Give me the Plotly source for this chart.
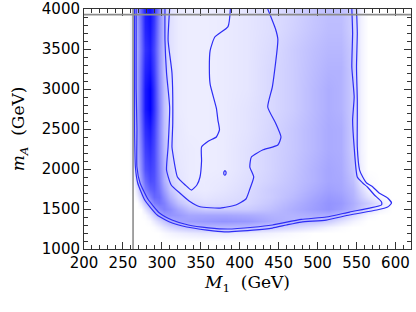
import plotly.graph_objects as go

# ---------------- data ----------------
M1_GRID = [258, 264, 268, 273, 278, 284, 290, 296, 302, 310, 320, 335, 355, 380,
           410, 440, 470, 495, 515, 530, 545, 555, 565, 580, 595, 610]
MA_GRID = [1100, 1200, 1275, 1350, 1425, 1500, 1575, 1650, 1750, 1850, 2000,
           2250, 2500, 2750, 3000, 3250, 3500, 3750, 4000]

# relative posterior density (rows follow MA_GRID, columns follow M1_GRID)
DENSITY = [
    [0]*26,
    [0, 0, 0, 0, 0, 0, 0, 0, .02, .04, .06, .08, .10, .10, .08, .05, .02, 0, 0, 0, 0, 0, 0, 0, 0, 0],
    [0, 0, 0, 0, 0, 0, .01, .05, .10, .15, .20, .25, .28, .28, .27, .22, .15, .10, .05, .02, 0, 0, 0, 0, 0, 0],
    [0, 0, 0, 0, 0, .02, .08, .15, .22, .30, .35, .38, .40, .42, .40, .33, .28, .25, .20, .12, .05, .02, 0, 0, 0, 0],
    [0, 0, 0, 0, .02, .10, .20, .30, .40, .42, .40, .35, .35, .35, .33, .30, .30, .32, .32, .25, .15, .08, .03, 0, 0, 0],
    [0, 0, 0, 0, .10, .22, .35, .45, .50, .45, .35, .25, .20, .20, .20, .25, .32, .38, .42, .38, .30, .22, .15, .05, 0, 0],
    [0, 0, 0, .08, .22, .38, .50, .55, .50, .38, .25, .16, .13, .14, .16, .22, .30, .37, .42, .40, .32, .25, .20, .10, .01, 0],
    [0, 0, .05, .18, .35, .50, .60, .58, .45, .30, .18, .12, .10, .12, .15, .20, .27, .35, .40, .38, .30, .20, .12, .03, 0, 0],
    [0, .02, .12, .30, .50, .62, .65, .55, .38, .22, .13, .09, .08, .10, .14, .20, .25, .32, .37, .35, .28, .15, .05, 0, 0, 0],
    [0, .05, .20, .38, .58, .70, .68, .52, .32, .18, .11, .08, .08, .09, .13, .18, .24, .30, .35, .34, .25, .10, .02, 0, 0, 0],
    [0, .10, .25, .45, .68, .75, .70, .50, .30, .16, .10, .08, .07, .08, .12, .17, .23, .30, .35, .33, .22, .06, 0, 0, 0, 0],
    [0, .12, .30, .50, .75, .82, .72, .48, .27, .14, .09, .08, .07, .08, .12, .17, .22, .28, .33, .32, .20, .05, 0, 0, 0, 0],
    [0, .12, .32, .55, .82, .90, .75, .48, .25, .13, .09, .07, .07, .08, .11, .16, .22, .28, .33, .32, .20, .05, 0, 0, 0, 0],
    [0, .15, .35, .60, .90, 1.0, .80, .50, .25, .12, .08, .07, .07, .08, .11, .15, .20, .27, .32, .30, .20, .05, 0, 0, 0, 0],
    [0, .15, .35, .60, .90, 1.0, .80, .48, .25, .12, .08, .07, .07, .08, .10, .15, .20, .27, .32, .30, .20, .05, 0, 0, 0, 0],
    [0, .15, .35, .58, .85, .92, .75, .45, .23, .12, .08, .07, .07, .08, .10, .15, .20, .26, .30, .30, .20, .05, 0, 0, 0, 0],
    [0, .15, .33, .55, .80, .88, .72, .44, .23, .12, .08, .07, .07, .08, .10, .14, .20, .25, .28, .28, .20, .05, 0, 0, 0, 0],
    [0, .15, .35, .57, .85, .92, .76, .46, .25, .12, .08, .07, .07, .08, .10, .13, .18, .23, .26, .26, .18, .05, 0, 0, 0, 0],
    [0, .15, .38, .60, .88, .95, .80, .48, .25, .12, .08, .07, .07, .08, .10, .13, .17, .22, .25, .25, .18, .05, 0, 0, 0, 0],
]

# contour lines (M1, mA)
CONTOUR_A_M1 = [265, 265, 265, 265, 266, 269, 278, 294, 310, 332, 358, 380, 417, 442, 460, 479,
                511, 541, 576, 590, 595, 590, 579, 571, 563, 558, 554, 551, 551, 551, 550, 551, 550]
CONTOUR_A_MA = [4000, 3600, 3000, 2500, 2025, 1825, 1612, 1425, 1337, 1275, 1237, 1215, 1237, 1262, 1300, 1337,
                1362, 1425, 1487, 1525, 1575, 1637, 1700, 1775, 1825, 1900, 1987, 2275, 2612, 2870, 3275, 3700, 4000]

CONTOUR_B_M1 = [267, 267, 267, 268, 268, 272, 282, 297, 313, 334, 360, 385, 417, 442, 479,
                511, 541, 567, 582, 582, 573, 564, 558, 551, 547, 545, 547, 544, 545, 544]
CONTOUR_B_MA = [4000, 3600, 3000, 2500, 2025, 1825, 1625, 1450, 1362, 1300, 1265, 1250, 1272, 1300, 1370,
                1400, 1462, 1512, 1550, 1590, 1675, 1775, 1825, 1900, 2275, 2612, 2900, 3275, 3700, 4000]

CONTOUR_C_M1 = [304, 304, 306, 310, 308, 306, 312, 323, 335, 349, 375, 395, 408, 413, 418, 413,
                415, 430, 449, 453, 446, 436, 442, 449, 446, 436]
CONTOUR_C_MA = [4000, 3610, 3200, 2775, 2275, 1987, 1800, 1700, 1600, 1528, 1512, 1550, 1625, 1750, 1900, 2025,
                2150, 2240, 2300, 2400, 2575, 2775, 3030, 3620, 3750, 4000]

CONTOUR_D_M1 = [310, 308, 313, 314, 313, 314, 320, 330, 338, 345, 349, 351, 351, 360, 370, 374,
                372, 370, 362, 361, 362, 368, 385, 388]
CONTOUR_D_MA = [4000, 3610, 3200, 2575, 2275, 2200, 1900, 1800, 1737, 1800, 1900, 2100, 2275, 2350, 2400, 2490,
                2612, 2760, 3060, 3270, 3480, 3650, 3780, 4000]

ISLAND_M1 = [381, 382.3, 382.5, 382, 381, 379.8, 379.5, 379.8, 381]
ISLAND_MA = [1980, 1965, 1950, 1932, 1922, 1932, 1950, 1965, 1980]

M1_LIMIT = 263
MA_LIMIT = 3930

X_TICKS = [200, 250, 300, 350, 400, 450, 500, 550, 600]
Y_TICKS = [1000, 1500, 2000, 2500, 3000, 3500, 4000]

# ---------------- figure ----------------
fig = go.Figure()
fig.add_trace(go.Heatmap(
    x=M1_GRID, y=MA_GRID, z=DENSITY, zmin=0, zmax=1, zsmooth='best',
    colorscale=[[0, 'rgb(255,255,255)'], [1, 'rgb(0,0,255)']],
    showscale=False, hoverinfo='skip'))

line_style = dict(color='rgb(45,45,245)', width=1.2, shape='spline', smoothing=0.5)
for xs, ys in [(CONTOUR_A_M1, CONTOUR_A_MA), (CONTOUR_B_M1, CONTOUR_B_MA),
               (CONTOUR_C_M1, CONTOUR_C_MA), (CONTOUR_D_M1, CONTOUR_D_MA),
               (ISLAND_M1, ISLAND_MA)]:
    fig.add_trace(go.Scatter(x=xs, y=ys, mode='lines', line=line_style,
                             showlegend=False, hoverinfo='skip'))

fig.add_vline(x=M1_LIMIT, line_color='rgb(140,140,140)', line_width=1.6)
fig.add_hline(y=MA_LIMIT, line_color='rgb(140,140,140)', line_width=1.6)

axis_common = dict(
    showgrid=False, zeroline=False, showline=True, linecolor='#333', linewidth=1,
    mirror='allticks', ticks='inside', ticklen=7, tickwidth=1, tickcolor='#333',
    tickfont=dict(family='DejaVu Sans', size=15, color='black'), automargin=False,
)
fig.update_xaxes(
    range=[200, 620], tickvals=X_TICKS, ticktext=[str(v) for v in X_TICKS],
    minor=dict(dtick=10, tick0=200, ticks='inside', ticklen=4, tickwidth=1, tickcolor='#333'),
    title=dict(text='<i>M</i><sub>1</sub>&nbsp;&nbsp;(GeV)',
               font=dict(family='DejaVu Serif', size=17, color='black'), standoff=4),
    **axis_common)
fig.update_yaxes(
    range=[1000, 4000], tickvals=Y_TICKS, ticktext=[str(v) for v in Y_TICKS],
    minor=dict(dtick=100, tick0=1000, ticks='inside', ticklen=4, tickwidth=1, tickcolor='#333'),
    title=dict(text='<i>m</i><sub><i>A</i></sub>&nbsp;&nbsp;(GeV)',
               font=dict(family='DejaVu Serif', size=17, color='black'), standoff=12),
    **axis_common)

fig.update_layout(
    width=416, height=312, autosize=False,
    margin=dict(l=84, r=5, t=9, b=63),
    paper_bgcolor='white', plot_bgcolor='white', showlegend=False,
)

fig.write_html("out.html", config={'displayModeBar': False},
               post_script="document.body.style.margin='0';")
